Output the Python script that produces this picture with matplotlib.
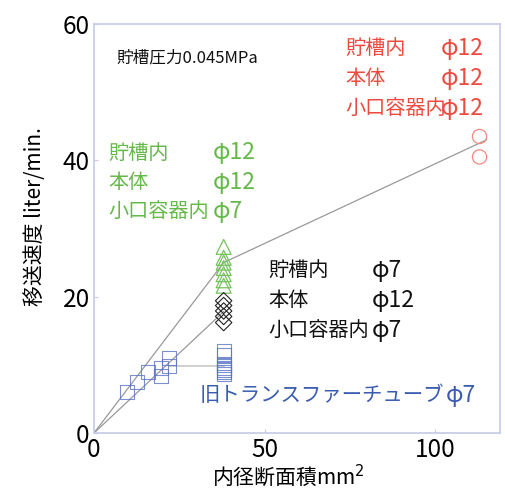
import matplotlib
matplotlib.use("Agg")
import matplotlib.pyplot as plt

plt.rcParams['font.family'] = ['Noto Sans CJK JP', 'DejaVu Sans']

# data
old_x = [9.6, 12.6, 15.9, 19.6, 19.6, 22.1, 22.1, 38, 38, 38, 38, 38, 38, 38, 38]
old_y = [6.0, 7.5, 8.9, 8.4, 9.5, 11.0, 9.8, 12.0, 11.4, 10.2, 9.9, 9.5, 9.2, 8.9, 8.6]
green_x = [38, 38, 38, 38, 38, 38, 38]
green_y = [27.3, 25.7, 25.0, 24.2, 23.3, 22.4, 21.6]
black_x = [38, 38, 38, 38, 38]
black_y = [19.4, 18.7, 17.9, 17.1, 16.2]
red_x = [113, 113]
red_y = [43.5, 40.5]
line1_x = [0, 38, 115]
line1_y = [0, 25.0, 43.0]
line2_x = [0, 38]
line2_y = [0, 17.8]
line3_x = [22.1, 38]
line3_y = [9.8, 9.8]

xticks = [0, 50, 100]
yticks = [0, 20, 40, 60]

W, H = 505, 490
fig = plt.figure(figsize=(W/100, H/100), dpi=100)
ax = fig.add_axes([94/W, 1-433/H, 406/W, 409/H])

spine_c = '#c5cbe6'
for s in ax.spines.values():
    s.set_color(spine_c)
    s.set_linewidth(1.2)

ax.plot(line1_x, line1_y, color='#999999', lw=0.9, zorder=1)
ax.plot(line2_x, line2_y, color='#999999', lw=0.9, zorder=1)
ax.plot(line3_x, line3_y, color='#c8c8c8', lw=1.2, zorder=1)

ax.scatter(old_x, old_y, marker='s', s=100, facecolors='none', edgecolors='#5a74c4', linewidths=0.8, alpha=0.8, zorder=2)
ax.scatter(green_x, green_y, marker='^', s=115, facecolors='none', edgecolors='#77c060', linewidths=0.9, zorder=2)
ax.scatter(black_x, black_y, marker='D', s=70, facecolors='none', edgecolors='#222222', linewidths=0.8, zorder=2)
ax.scatter(red_x, red_y, marker='o', s=105, facecolors='none', edgecolors='#f08a80', linewidths=0.9, zorder=2)

ax.set_xlim(0, 119)
ax.set_ylim(0, 60)
ax.set_xticks(xticks)
ax.set_yticks(yticks)
ax.tick_params(direction='in', length=3, color=spine_c, labelsize=17.5, pad=3)
ax.set_xlabel('内径断面積mm$^2$', fontsize=15, va='center')
ax.xaxis.set_label_coords(0.48, -0.105)
ax.set_ylabel('移送速度 liter/min.', fontsize=15, va='center')
ax.yaxis.set_label_coords(-0.145, 0.53)

def t(x, y, s, c, fs=14.5, **kw):
    fig.text(x/W, 1-y/H, s, color=c, fontsize=fs, va='center', ha='left', **kw)

t(116, 58, '貯槽圧力0.045MPa', '#111111', fs=12)

red = '#ec4a3e'
t(345, 48, '貯槽内', red); t(441, 48, 'φ12', red, fs=16.5)
t(345, 78, '本体', red); t(441, 78, 'φ12', red, fs=16.5)
t(345, 108, '小口容器内', red); t(441, 108, 'φ12', red, fs=16.5)

green = '#66b84a'
t(108, 153, '貯槽内', green); t(213, 153, 'φ12', green, fs=16.5)
t(108, 182, '本体', green); t(213, 182, 'φ12', green, fs=16.5)
t(108, 211, '小口容器内', green); t(213, 211, 'φ7', green, fs=16.5)

blk = '#111111'
t(268, 270, '貯槽内', blk); t(372, 270, 'φ7', blk, fs=16.5)
t(268, 300, '本体', blk); t(372, 300, 'φ12', blk, fs=16.5)
t(268, 330, '小口容器内', blk); t(372, 330, 'φ7', blk, fs=16.5)

t(200, 395, '旧トランスファーチューブ', '#3a5cb0', fs=14.7)
t(446, 395, 'φ7', '#3a5cb0', fs=16.5)

fig.savefig('out.png', dpi=100)
